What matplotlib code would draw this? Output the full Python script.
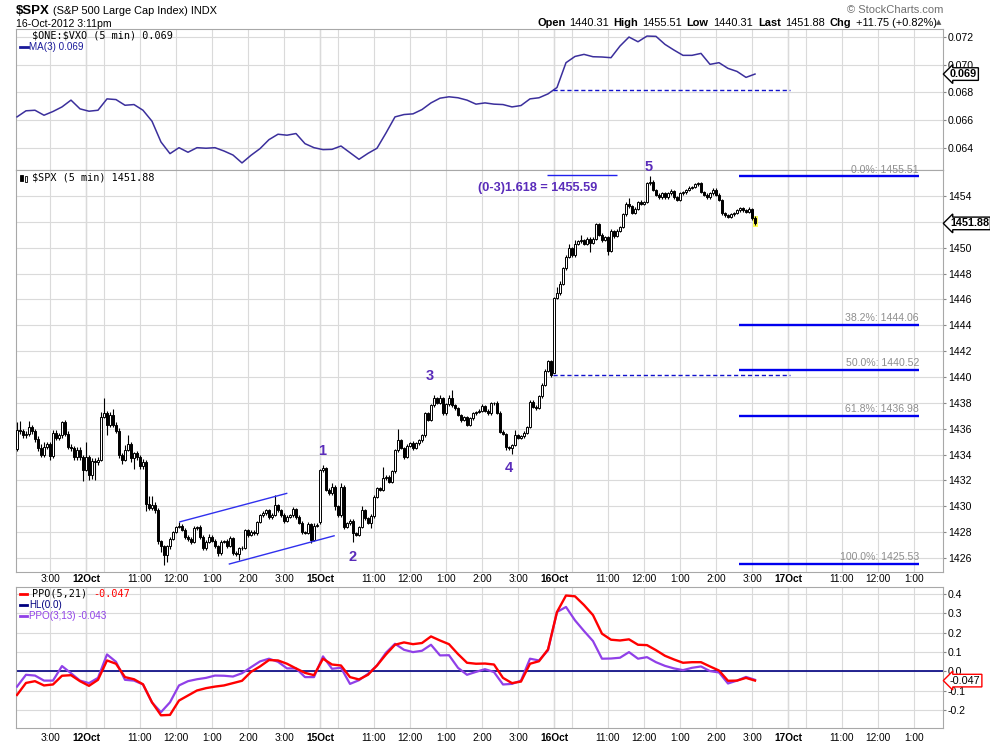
import numpy as np
import matplotlib
matplotlib.use("Agg")
from matplotlib import pyplot as plt
from matplotlib import font_manager
from matplotlib.lines import Line2D
from matplotlib.patches import Rectangle
from matplotlib.transforms import blended_transform_factory

plt.rcParams['font.family'] = ['Liberation Sans', 'DejaVu Sans']

# ---------------- $SPX 5 minute bars ----------------
# 11 Oct (last 23 bars), 12 Oct, 15 Oct, 16 Oct (to 3:05pm)
open_11oct = 1434.4
close_11oct = [1435.9, 1435.8, 1435.5, 1435.6, 1436.1, 1435.8, 1435.2, 1434.5, 1434.0, 1434.6,
               1434.8, 1433.9, 1435.7, 1435.3, 1435.5, 1436.5, 1435.6, 1434.6, 1434.5, 1433.8,
               1434.35, 1433.8, 1432.84]
up_11oct = [0.6, 0.7, 0.2, 0.2, 0.5, 0.2, 0.2, 0.2, 0.3, 0.4, 0.2, 0.2, 0.2, 0.2, 0.2, 0.1,
            0.2, 0.2, 0.2, 0.2, 0.2, 0.2, 0.2]
down_11oct = [0.1, 0.2, 0.2, 0.2, 0.2, 0.2, 0.2, 0.2, 0.2, 0.2, 0.2, 0.3, 0.2, 0.2, 0.2, 0.2,
              0.2, 0.2, 0.2, 0.2, 0.2, 0.2, 0.9]

open_12oct = 1432.84
close_12oct = [1433.8, 1432.4, 1433.5, 1433.4, 1433.6, 1436.9, 1437.2, 1436.3, 1437.1, 1436.3,
               1435.85, 1433.96, 1433.6, 1434.35, 1434.8, 1433.7, 1434.1, 1433.8, 1433.1, 1433.45,
               1430.2, 1429.9, 1430.1, 1429.7, 1427.3, 1426.9, 1426.2, 1426.9, 1427.5, 1428.0,
               1428.4, 1428.5,
               1428.2, 1427.65, 1427.45, 1427.26, 1428.3, 1428.37, 1427.65, 1426.75, 1427.26, 1427.65,
               1427.35, 1426.93, 1426.36, 1427.26, 1427.3, 1426.93, 1427.52, 1426.36, 1426.3, 1426.75,
               1426.8, 1428.16, 1427.78, 1428.04, 1427.9, 1428.8, 1429.3, 1429.45, 1429.7, 1429.15,
               1429.35, 1430.1, 1429.7, 1429.3, 1428.9, 1429.2, 1429.3, 1429.8, 1429.2, 1428.7,
               1428.0, 1427.96, 1428.6, 1427.4, 1428.5, 1428.59]
up_12oct = [1.2, 0.2, 0.2, 0.2, 0.2, 0.4, 1.2, 0.2, 0.2, 0.4,
            0.2, 0.2, 0.2, 0.4, 0.7, 0.2, 0.1, 0.2, 0.2, 0.2,
            0.1, 0.6, 0.7, 0.2, 0.2, 0.1, 0.1, 0.1, 0.1, 0.1,
            0.1, 0.3,
            0.1, 0.15, 0.1, 0.15, 0.15, 0.1, 0.15, 0.15, 0.1, 0.2,
            0.15, 0.1, 0.1, 0.15, 0.1, 0.15, 0.2, 0.1, 0.15, 0.1,
            0.15, 0.1, 0.1, 0.15, 0.1, 0.1, 0.1, 0.15, 0.1, 0.1,
            0.15, 0.8, 0.1, 0.1, 0.15, 0.1, 0.1, 0.15, 0.1, 0.1,
            0.15, 0.1, 0.15, 0.1, 0.2, 0.1]
down_12oct = [0.1, 0.4, 0.3, 1.4, 0.2, 0.1, 0.1, 0.8, 0.2, 0.2,
              0.2, 0.2, 0.3, 0.1, 0.1, 0.3, 0.8, 0.2, 0.2, 0.2,
              0.6, 0.2, 0.2, 0.2, 0.2, 0.4, 0.7, 0.5, 0.2, 0.1,
              0.1, 0.1,
              0.1, 0.15, 0.1, 0.15, 0.1, 0.1, 0.15, 0.1, 0.15, 0.1,
              0.1, 0.15, 0.2, 0.1, 0.1, 0.15, 0.1, 0.1, 0.15, 0.45,
              0.1, 0.1, 0.15, 0.1, 0.1, 0.1, 0.1, 0.15, 0.1, 0.15,
              0.1, 0.1, 0.15, 0.1, 0.2, 0.1, 0.1, 0.1, 0.15, 0.1,
              0.15, 0.1, 0.1, 0.2, 0.1, 0.1]

open_15oct = 1428.75
close_15oct = [1432.8, 1432.95, 1431.26, 1431.0, 1431.5, 1430.0, 1429.3, 1431.5, 1428.4, 1428.7,
               1428.9, 1427.9, 1427.8, 1428.4, 1429.7, 1429.07, 1428.7, 1429.25, 1430.74, 1431.39,
               1431.3, 1432.16, 1432.3, 1431.9, 1432.7, 1434.35, 1435.1, 1434.5, 1433.83, 1434.7,
               1434.9, 1434.5, 1434.9, 1435.1, 1435.5, 1437.19, 1436.7, 1437.8, 1438.35, 1438.0,
               1438.35, 1437.2, 1437.9, 1438.4, 1437.8, 1437.6, 1437.05, 1436.7, 1436.9, 1436.3,
               1436.8, 1437.2, 1437.3, 1437.4, 1437.75, 1437.4, 1437.2, 1437.96, 1438.0, 1437.24,
               1435.77, 1435.6, 1434.56, 1434.5, 1434.75, 1435.5, 1435.3, 1435.4, 1435.7, 1436.15,
               1438.1, 1437.7, 1437.6, 1438.5, 1439.4, 1440.5, 1441.2, 1440.13]
up_15oct = [0.1, 0.25, 0.1, 0.12, 0.3, 0.12, 0.1, 0.3, 0.12, 0.1,
            0.12, 0.1, 0.12, 0.1, 0.3, 0.12, 0.1, 0.12, 0.1, 0.12,
            0.1, 0.85, 0.12, 0.1, 0.12, 0.1, 0.9, 0.12, 0.1, 0.12,
            0.1, 0.12, 0.1, 0.12, 0.1, 0.12, 0.1, 0.12, 0.25, 0.1,
            0.25, 0.12, 0.1, 0.2, 0.6, 0.12, 0.1, 0.12, 0.1, 0.12,
            0.1, 0.12, 0.1, 0.12, 0.2, 0.12, 0.1, 0.12, 0.1, 0.12,
            0.1, 0.12, 0.1, 0.12, 0.1, 0.4, 0.12, 0.1, 0.12, 0.1,
            0.12, 0.1, 0.12, 0.1, 0.12, 0.1, 0.1, 0.12]
down_15oct = [0.1, 0.12, 0.1, 0.12, 0.1, 0.3, 0.12, 0.1, 0.12, 0.1,
              0.12, 0.65, 0.1, 0.12, 0.1, 0.12, 0.1, 0.4, 0.12, 0.1,
              0.12, 0.1, 0.12, 0.1, 0.12, 0.1, 0.12, 0.1, 0.15, 0.12,
              0.1, 0.12, 0.1, 0.12, 0.1, 0.12, 0.1, 0.12, 0.1, 0.12,
              0.1, 0.12, 0.1, 0.12, 0.1, 0.12, 0.1, 0.2, 0.12, 0.1,
              0.12, 0.1, 0.12, 0.1, 0.12, 0.1, 0.12, 0.1, 0.12, 0.1,
              0.12, 0.1, 0.2, 0.12, 0.45, 0.1, 0.12, 0.1, 0.12, 0.1,
              0.12, 0.1, 0.12, 0.1, 0.12, 0.1, 0.12, 0.1]

open_16oct = 1440.31
close_16oct = [1446.1, 1446.5, 1447.2, 1448.4, 1449.3, 1449.95, 1449.4, 1450.3, 1450.5, 1450.6,
               1450.3, 1450.7, 1450.4, 1450.7, 1451.8, 1451.0, 1450.6, 1450.8, 1449.75, 1451.3,
               1450.9, 1451.3, 1451.6, 1452.6, 1453.4, 1453.2, 1452.7, 1453.0, 1453.55, 1453.4,
               1453.55, 1454.97, 1455.1, 1454.45, 1454.1, 1453.9, 1454.2, 1453.9, 1454.2, 1454.4,
               1453.9, 1453.7, 1454.2, 1454.3, 1454.45, 1454.65, 1454.7, 1454.9, 1455.0, 1454.3,
               1454.1, 1453.9, 1454.2, 1454.5, 1454.1, 1453.7, 1452.65, 1452.5, 1452.4, 1452.6,
               1452.7, 1452.9, 1453.05, 1452.9, 1452.8, 1453.0, 1452.3, 1451.88]
up_16oct = [0.1, 0.5, 0.2, 0.1, 0.1, 0.35, 0.1, 0.3, 0.1, 0.4,
            0.1, 0.12, 0.1, 0.12, 0.1, 0.12, 0.1, 0.12, 0.1, 0.12,
            0.1, 0.12, 0.1, 0.12, 0.1, 0.45, 0.1, 0.12, 0.1, 0.12,
            0.1, 0.12, 0.41, 0.12, 0.1, 0.12, 0.1, 0.12, 0.1, 0.12,
            0.1, 0.12, 0.1, 0.12, 0.1, 0.12, 0.1, 0.12, 0.1, 0.12,
            0.1, 0.12, 0.1, 0.12, 0.1, 0.12, 0.1, 0.12, 0.1, 0.12,
            0.1, 0.12, 0.1, 0.12, 0.1, 0.12, 0.1, 0.12]
down_16oct = [0.0, 0.1, 0.12, 0.1, 0.12, 0.1, 0.12, 0.1, 0.12, 0.1,
              0.12, 0.1, 0.7, 0.1, 0.12, 0.1, 0.12, 0.1, 0.35, 0.1,
              0.12, 0.1, 0.12, 0.1, 0.12, 0.1, 0.12, 0.1, 0.12, 0.1,
              0.12, 0.1, 0.12, 0.1, 0.12, 0.1, 0.12, 0.1, 0.12, 0.1,
              0.12, 0.1, 0.12, 0.1, 0.12, 0.1, 0.12, 0.1, 0.12, 0.1,
              0.12, 0.1, 0.12, 0.1, 0.12, 0.1, 0.12, 0.1, 0.12, 0.1,
              0.12, 0.1, 0.12, 0.1, 0.12, 0.1, 0.12, 0.1]

# ---------------- indicators, one value every 15 minutes (3 bars) ----------------
vxo_ma3 = [0.06624, 0.06668, 0.06672, 0.06636, 0.06663, 0.06696, 0.06745, 0.06682, 0.06665, 0.06672,
           0.06754, 0.06749, 0.06708, 0.06713, 0.06672, 0.06593, 0.06443, 0.06359, 0.06402, 0.06369,
           0.06402, 0.06398, 0.06402, 0.06378, 0.06349, 0.06292, 0.06347, 0.06395, 0.06460, 0.06499,
           0.06492, 0.06504, 0.06431, 0.06402, 0.06388, 0.06390, 0.06414, 0.06366, 0.06318, 0.06361,
           0.06398, 0.06508, 0.06624, 0.06641, 0.06646, 0.06677, 0.06725, 0.06759, 0.06769, 0.06762,
           0.06745, 0.06716, 0.06725, 0.06716, 0.06713, 0.06696, 0.06706, 0.06754, 0.06762, 0.06790,
           0.06836, 0.07015, 0.07060, 0.07075, 0.07058, 0.07056, 0.07051, 0.07135, 0.07200, 0.07166,
           0.07207, 0.07205, 0.07147, 0.07106, 0.07068, 0.07068, 0.07082, 0.07003, 0.07015, 0.06974,
           0.06952, 0.06909, 0.06933]
ppo_5_21 = [-0.121, -0.059, -0.050, -0.072, -0.067, -0.022, -0.019, -0.050, -0.074, -0.043,
            0.057, 0.040, -0.029, -0.040, -0.066, -0.159, -0.226, -0.224, -0.150, -0.124,
            -0.098, -0.086, -0.078, -0.072, -0.060, -0.048, -0.002, 0.026, 0.059, 0.057,
            0.040, 0.016, -0.007, -0.019, 0.066, 0.036, 0.031, -0.029, -0.041, -0.017,
            0.031, 0.088, 0.138, 0.150, 0.141, 0.147, 0.181, 0.160, 0.141, 0.090,
            0.045, 0.040, 0.041, 0.036, -0.033, -0.060, -0.052, 0.040, 0.053, 0.114,
            0.307, 0.392, 0.388, 0.343, 0.291, 0.195, 0.164, 0.160, 0.166, 0.138,
            0.136, 0.110, 0.081, 0.062, 0.045, 0.048, 0.048, 0.026, 0.005, -0.048,
            -0.047, -0.033, -0.047]
ppo_3_13 = [-0.078, -0.017, -0.021, -0.047, -0.047, 0.028, -0.009, -0.047, -0.060, -0.033,
            0.088, 0.050, -0.043, -0.047, -0.067, -0.160, -0.210, -0.159, -0.072, -0.050,
            -0.040, -0.033, -0.021, -0.022, -0.026, -0.009, 0.022, 0.052, 0.066, 0.050,
            0.016, 0.016, -0.029, -0.029, 0.078, 0.014, 0.019, -0.064, -0.045, -0.012,
            0.031, 0.097, 0.143, 0.112, 0.100, 0.107, 0.138, 0.083, 0.084, 0.019,
            -0.017, -0.002, 0.012, -0.003, -0.067, -0.064, -0.047, 0.066, 0.057, 0.109,
            0.307, 0.333, 0.264, 0.209, 0.157, 0.066, 0.067, 0.071, 0.100, 0.066,
            0.074, 0.048, 0.029, 0.016, 0.007, 0.019, 0.026, 0.002, -0.005, -0.062,
            -0.047, -0.028, -0.043]

# fibonacci retracement of the 12 Oct low -> 16 Oct high
fib_pcts = [0.0, 38.2, 50.0, 61.8, 100.0]
fib_levels = [1455.51, 1444.06, 1440.52, 1436.98, 1425.53]

session_days = ['11Oct', '12Oct', '15Oct', '16Oct', '17Oct']
hour_labels = ['', '', '11:00', '12:00', '1:00', '2:00', '3:00']
hour_offsets = [0, 6, 18, 30, 42, 54, 66]   # bars after 9:30 open
BARS_PER_DAY = 78

W, H = 990, 744


def fx(px):
    return px / W


def fy(py):
    return 1 - py / H


# ---- build the bar table ----
sess_close = [close_11oct, close_12oct, close_15oct, close_16oct]
sess_open = [open_11oct, open_12oct, open_15oct, open_16oct]
closes = np.concatenate([np.array(c) for c in sess_close])
opens = np.r_[np.nan, closes[:-1]]
start = 0
for c, o in zip(sess_close, sess_open):
    opens[start] = o
    start += len(c)
up_w = np.array(up_11oct + up_12oct + up_15oct + up_16oct)
down_w = np.array(down_11oct + down_12oct + down_15oct + down_16oct)
highs = np.maximum(opens, closes) + up_w
lows = np.minimum(opens, closes) - down_w
bars = np.arange(len(closes)) - len(close_11oct)
ind_x = bars[0] + 3 * np.arange(len(vxo_ma3))

XMIN, XMAX = -23.33, 285.67

fig = plt.figure(figsize=(W / 100, H / 100), dpi=100)
ax_top = fig.add_axes([fx(16), fy(170), 927 / W, 141 / H])
ax_main = fig.add_axes([fx(16), fy(572), 927 / W, 402 / H])
ax_ppo = fig.add_axes([fx(16), fy(728), 927 / W, 141 / H])

ticks, labels, day_ticks = [], [], []
for d, day in enumerate(session_days):
    s = (d - 1) * BARS_PER_DAY
    for off, lab in zip(hour_offsets, hour_labels):
        t = s + off
        if XMIN < t < XMAX:
            ticks.append(t)
            labels.append(day if off == 0 else lab)
            if off == 0:
                day_ticks.append(t)

grid_c = '#dadada'
for ax in (ax_top, ax_main, ax_ppo):
    ax.set_xlim(XMIN, XMAX)
    ax.set_xticks(ticks)
    ax.set_xticklabels(labels)
    ax.grid(True, color=grid_c, lw=0.8, zorder=0)
    ax.set_axisbelow(True)
    for t in day_ticks:
        ax.axvline(t, color='#b8b8b8', lw=0.9, zorder=0.5)
    for sp in ax.spines.values():
        sp.set_color('#a8a8a8')
        sp.set_linewidth(0.8)
    ax.yaxis.tick_right()
    ax.tick_params(axis='y', length=2, pad=1.5, labelsize=7.6, color='#888888')
    ax.tick_params(axis='x', length=0, labelsize=7.3)
ax_top.tick_params(axis='x', labelbottom=False)
ax_main.tick_params(axis='x', pad=1.5)
ax_ppo.tick_params(axis='x', pad=3.5)
for ax in (ax_main, ax_ppo):
    for tl in ax.get_xticklabels():
        if tl.get_text() in session_days:
            tl.set_fontweight('bold')

# ---- top panel: $ONE:$VXO MA(3) ----
ax_top.set_ylim(0.06241, 0.07258)
vticks = [0.064, 0.066, 0.068, 0.070, 0.072]
ax_top.set_yticks(vticks)
ax_top.set_yticklabels(['%.3f' % v for v in vticks])
ax_top.plot(ind_x, vxo_ma3, color='#3b2f9c', lw=1.1, zorder=3)
ax_top.hlines(0.06815, 155.7, 234.7, colors='#1010cc', linestyles=(0, (3, 2)), lw=1.0, zorder=3)

# ---- main panel: candles ----
ax_main.set_ylim(1424.92, 1456.01)
pticks = list(range(1426, 1455, 2))
ax_main.set_yticks(pticks)
ax_main.set_yticklabels(['' if p == 1452 else str(p) for p in pticks])
ax_main.add_patch(Rectangle((bars[-1] - 0.7, lows[-1] - 0.2), 1.6, highs[-1] - lows[-1] + 0.25,
                            facecolor='#ffff55', edgecolor='none', zorder=2))
ax_main.vlines(bars, lows, highs, color='black', lw=0.8, zorder=3)
rising = closes >= opens
ax_main.bar(bars, np.maximum(np.abs(closes - opens), 0.05), bottom=np.minimum(opens, closes),
            width=0.72, color=np.where(rising, 'white', 'black'), edgecolor='black',
            linewidth=0.7, zorder=4)

fib_c = '#0000ee'
ax_main.hlines(fib_levels, 217.7, 277.7, colors=fib_c, lw=1.7, zorder=5)
for pct, lvl in zip(fib_pcts, fib_levels):
    ax_main.text(277.7, lvl + 0.15, '%.1f%%: %.2f' % (pct, lvl), ha='right', va='bottom',
                 fontsize=7.6, color='#8e8e8e', zorder=6)
ax_main.hlines(1455.59, 153.7, 177.0, colors='#2020ee', lw=1.0, zorder=5)
ax_main.hlines(1440.13, 155.7, 234.7, colors='#1010cc', linestyles=(0, (3, 2)), lw=1.0, zorder=5)
ax_main.plot([31.3, 66.9], [1428.8, 1431.0], color='#3030ee', lw=1.0, zorder=5)
ax_main.plot([47.8, 82.7], [1425.54, 1427.72], color='#3030ee', lw=1.0, zorder=5)

wave_c = '#5a2cba'
for lab, bx, py in [('1', 78.7, 1434.28), ('2', 88.7, 1426.08), ('3', 114.7, 1440.08),
                    ('4', 141.0, 1432.96), ('5', 187.7, 1456.24)]:
    ax_main.text(bx, py, lab, ha='center', va='center', fontsize=10.5, fontweight='bold',
                 color=wave_c, zorder=6, clip_on=False)
installed = {f.name for f in font_manager.fontManager.ttflist}
if 'Liberation Sans Narrow' in installed:
    ann_font, ann_size = 'Liberation Sans Narrow', 11
else:
    ann_font, ann_size = 'Liberation Sans', 9.2
ax_main.text(130.7, 1454.6, '(0-3)1.618 = 1455.59', ha='left', va='center', fontsize=ann_size,
             fontweight='bold', color=wave_c, family=ann_font, zorder=6)

# ---- PPO panel ----
ax_ppo.set_ylim(-0.2916, 0.436)
oticks = [-0.2, -0.1, 0.0, 0.1, 0.2, 0.3, 0.4]
ax_ppo.set_yticks(oticks)
ax_ppo.set_yticklabels(['%.1f' % v for v in oticks])
ax_ppo.axhline(0.0, color='#000080', lw=1.2, zorder=2)
ax_ppo.plot(ind_x, ppo_3_13, color='#9040e8', lw=1.6, zorder=3)
ax_ppo.plot(ind_x, ppo_5_21, color='#ff0000', lw=1.7, zorder=4)

# ---- value boxes on the right axis ----
for ax, val, txt, ec in [(ax_top, vxo_ma3[-1], '0.069', 'black'),
                         (ax_main, closes[-1], '%.2f' % closes[-1], 'black'),
                         (ax_ppo, ppo_5_21[-1], '%.3f' % ppo_5_21[-1], '#ff0000')]:
    tr = blended_transform_factory(ax.transAxes, ax.transData)
    ax.text(1.0075, val, txt, transform=tr, ha='left', va='center', fontsize=7.8,
            fontweight='bold' if ec == 'black' else 'normal', zorder=10, clip_on=False,
            bbox=dict(boxstyle='larrow,pad=0.12', fc='white', ec=ec, lw=1.0))

# ---- header texts ----
fig.text(fx(16), fy(11), r'\$SPX', fontsize=9.5, fontweight='bold', va='center')
fig.text(fx(53), fy(11), '(S&P 500 Large Cap Index) INDX', fontsize=7.9, va='center')
fig.text(fx(16), fy(24), '16-Oct-2012 3:11pm', fontsize=7.6, va='center')
fig.text(fx(943), fy(10), '\u00a9 StockCharts.com', fontsize=8, va='center', ha='right',
         color='#707070')
for px, txt, bold in [(537, 'Open', True), (569, '1440.31', False), (613, 'High', True),
                      (642, '1455.51', False), (686, 'Low', True), (713, '1440.31', False),
                      (758, 'Last', True), (785, '1451.88', False), (829, 'Chg', True),
                      (856, '+11.75 (+0.82%)', False)]:
    fig.text(fx(px), fy(23), txt, fontsize=7.9, va='center',
             fontweight='bold' if bold else 'normal')
fig.text(fx(936), fy(22), '\u25b2', fontsize=5, va='center', color='#555555',
         family='DejaVu Sans')

# legends
mono = 'DejaVu Sans Mono'
fig.text(fx(32), fy(36), r'\$ONE:\$VXO (5 min) 0.069', fontsize=7.3, family=mono, va='center')
fig.add_artist(Line2D([fx(20), fx(28)], [fy(47), fy(47)], color='#1a1a9a', lw=2))
fig.text(fx(29), fy(47), 'MA(3) 0.069', fontsize=7.1, color='#1a1a9a', va='center')

fig.add_artist(Rectangle((fx(20), fy(181)), 2.5 / W, 6 / H, fc='black', ec='black', lw=0.6))
fig.add_artist(Rectangle((fx(24.5), fy(182)), 2.5 / W, 6 / H, fc='white', ec='black', lw=0.6))
fig.text(fx(32), fy(178), r'\$SPX (5 min) 1451.88', fontsize=7.3, family=mono, va='center')

fig.add_artist(Line2D([fx(20), fx(27)], [fy(594), fy(594)], color='#ff0000', lw=2))
fig.text(fx(32), fy(594), 'PPO(5,21)', fontsize=7.25, family=mono, va='center')
fig.text(fx(93), fy(594), '-0.047', fontsize=7.25, family=mono, va='center', color='#ff0000')
fig.add_artist(Line2D([fx(20), fx(27)], [fy(605), fy(605)], color='#000080', lw=2))
fig.text(fx(29), fy(605), 'HL(0.0)', fontsize=7.1, va='center', color='#000080')
fig.add_artist(Line2D([fx(20), fx(27)], [fy(616), fy(616)], color='#9040e8', lw=2))
fig.text(fx(29), fy(616), 'PPO(3,13) -0.043', fontsize=7.1, va='center', color='#9040e8')

fig.savefig('out.png', dpi=100, facecolor='white')
